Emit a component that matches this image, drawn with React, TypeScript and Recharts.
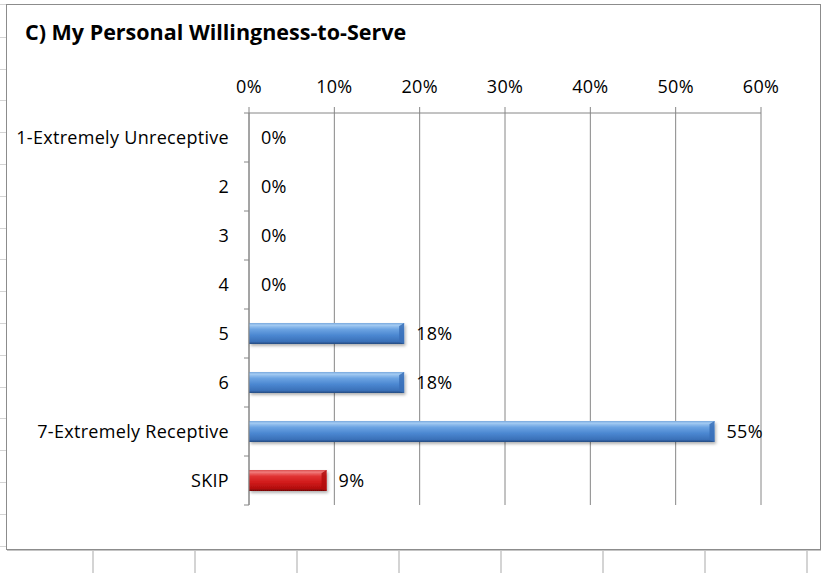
import { Bar, BarChart, CartesianGrid, LabelList, XAxis, YAxis } from "recharts";

const CATEGORIES = [
  "1-Extremely Unreceptive",
  "2",
  "3",
  "4",
  "5",
  "6",
  "7-Extremely Receptive",
  "SKIP",
];
const SHARES = [0, 0, 0, 0, 0.1818, 0.1818, 0.5455, 0.0909];
const X_TICKS = [0, 0.1, 0.2, 0.3, 0.4, 0.5, 0.6];
const SKIP = "SKIP";

const FONT = "'Open Sans', Lato, sans-serif";
const LINE = "#868686";
const AXIS_X = 249;
const PLOT_TOP = 113;
const PLOT_BOTTOM = 505;
const BAND = (PLOT_BOTTOM - PLOT_TOP) / CATEGORIES.length;
const TEXT = { fill: "#000", fontSize: 18, fontFamily: FONT, letterSpacing: 0.3 };

const rows = CATEGORIES.map((c, i) => ({ category: c, share: SHARES[i] }));

const pct = (v: number) => `${Math.round(v * 100)}%`;

// category labels, with the little ticks between rows (Excel puts them on band edges)
function CatTick(props: any) {
  const { y, payload, index } = props;
  return (
    <g>
      <text x={AXIS_X - 20} y={y} dy="0.36em" textAnchor="end" {...TEXT}>
        {payload.value}
      </text>
      <line x1={AXIS_X - 5} x2={AXIS_X} y1={y + BAND / 2} y2={y + BAND / 2} stroke={LINE} />
      {index === 0 && (
        <line x1={AXIS_X - 5} x2={AXIS_X} y1={y - BAND / 2} y2={y - BAND / 2} stroke={LINE} />
      )}
    </g>
  );
}

function BevelBar(props: any) {
  const { x, y, width, height, index, payload } = props;
  if (!width || width <= 0) return <g />;
  const red = payload.category === SKIP;
  const id = `barfill${index}`;
  const fid = `barshadow${index}`;
  const stops = red
    ? ["#c42424", "#f07a7a", "#e03232", "#d01a1a", "#b20d0d", "#760505"]
    : ["#4f86c8", "#a2caf2", "#6ba3e2", "#4a86d0", "#3a70b8", "#244a80"];
  const cap = Math.min(5, width);
  return (
    <g>
      <defs>
        <linearGradient id={id} x1="0" y1="0" x2="0" y2="1">
          <stop offset="0" stopColor={stops[0]} />
          <stop offset="0.1" stopColor={stops[1]} />
          <stop offset="0.3" stopColor={stops[2]} />
          <stop offset="0.6" stopColor={stops[3]} />
          <stop offset="0.88" stopColor={stops[4]} />
          <stop offset="1" stopColor={stops[5]} />
        </linearGradient>
        <filter id={fid} x="-5%" y="-30%" width="115%" height="180%">
          <feDropShadow dx="1.5" dy="2" stdDeviation="1.5" floodColor="#000" floodOpacity="0.3" />
        </filter>
      </defs>
      <rect x={x} y={y} width={width} height={height} fill={`url(#${id})`} filter={`url(#${fid})`} />
      <polygon
        points={`${x + width - cap},${y + 3} ${x + width},${y} ${x + width},${y + height} ${x + width - cap},${y + height - 2}`}
        fill={stops[4]}
        opacity={0.85}
      />
      <polygon
        points={`${x + width - cap},${y + 3} ${x + width},${y} ${x},${y} ${x},${y + 3}`}
        fill={stops[1]}
        opacity={0.5}
      />
    </g>
  );
}

export default function App() {
  return (
    <div style={{ position: "absolute", left: 0, top: 0, width: 821, height: 573, background: "#fff", overflow: "hidden" }}>
      <div
        style={{
          position: "absolute",
          left: 0,
          top: 0,
          width: 6,
          height: 573,
          backgroundImage:
            "repeating-linear-gradient(to bottom, transparent 0px, transparent 30.8px, #d4d4d4 30.8px, #d4d4d4 31.8px)",
          backgroundPosition: "0 6px",
        }}
      />
      <div
        style={{
          position: "absolute",
          left: 0,
          top: 550,
          width: 821,
          height: 23,
          backgroundImage:
            "repeating-linear-gradient(to right, transparent 0px, transparent 100.5px, #d4d4d4 100.5px, #d4d4d4 102px)",
          backgroundPosition: "-8px 0",
        }}
      />
      <div
        style={{
          position: "absolute",
          left: 6,
          top: 4,
          width: 815,
          height: 546,
          boxSizing: "border-box",
          border: "1px solid #8c8c8c",
          boxShadow: "1px 1px 0 #c4c4c4",
          background: "#fff",
        }}
      />
      <div
        style={{
          position: "absolute",
          left: 25,
          top: 17,
          fontFamily: FONT,
          fontWeight: 700,
          fontSize: 21.5,
          color: "#000",
          whiteSpace: "nowrap",
        }}
      >
        C) My Personal Willingness-to-Serve
      </div>
      <div style={{ position: "absolute", left: 0, top: 0 }}>
        <BarChart
          width={821}
          height={573}
          data={rows}
          layout="vertical"
          margin={{ top: 60, right: 60, bottom: 573 - PLOT_BOTTOM, left: 0 }}
          barCategoryGap={0}
        >
          <CartesianGrid horizontal={false} stroke={LINE} />
          <XAxis
            type="number"
            orientation="top"
            domain={[0, 0.6]}
            ticks={X_TICKS}
            tickFormatter={pct}
            height={PLOT_TOP - 60}
            tickSize={6}
            tickMargin={14}
            axisLine={{ stroke: LINE }}
            tickLine={{ stroke: LINE }}
            tick={TEXT}
            interval={0}
          />
          <YAxis
            type="category"
            dataKey="category"
            width={AXIS_X}
            axisLine={{ stroke: LINE }}
            tickLine={false}
            tick={<CatTick />}
            interval={0}
          />
          <Bar dataKey="share" barSize={21} shape={<BevelBar />} isAnimationActive={false}>
            <LabelList
              dataKey="share"
              position="right"
              offset={12}
              formatter={(v: any) => pct(Number(v))}
              {...TEXT}
            />
          </Bar>
        </BarChart>
      </div>
    </div>
  );
}
